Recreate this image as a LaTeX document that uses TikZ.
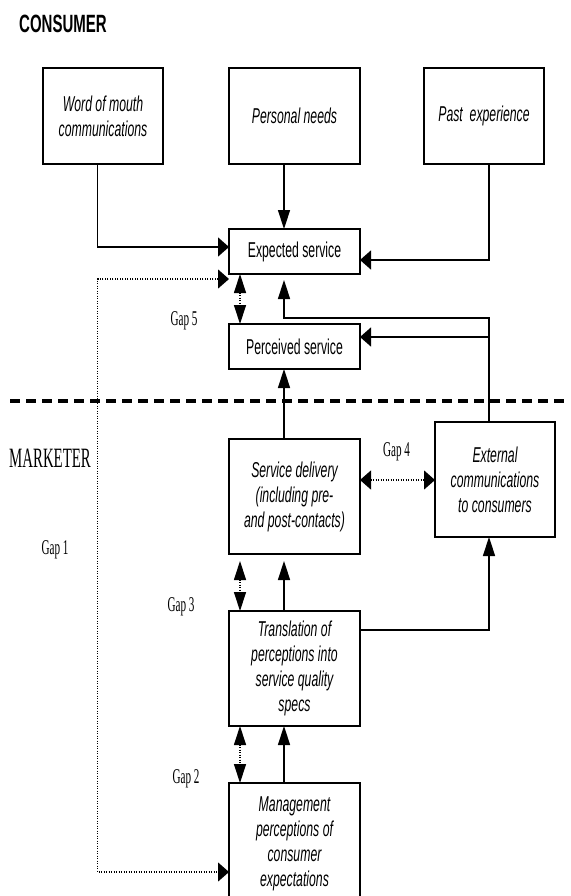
\documentclass[tikz,border=0pt]{standalone}
\usepackage{fontspec}
\setmainfont{Liberation Serif}
\newfontfamily\boxf{Liberation Sans}[FakeStretch=0.57]
\newfontfamily\titlef{Liberation Sans}[FakeStretch=0.6]
\newfontfamily\serf{Liberation Serif}[FakeStretch=0.53]
\usetikzlibrary{arrows.meta,calc}
\tikzset{
  box/.style={draw, line width=1.8pt, anchor=north west, inner sep=0pt, outer sep=0pt,
    align=center, minimum width=131pt,
    font=\boxf\itshape\fontsize{21.5}{25}\selectfont},
  ubox/.style={box, font=\boxf\fontsize{21.5}{25}\selectfont},
  conn/.style={line width=1.5pt},
  dots/.style={line width=1.2pt, dash pattern=on 1.2pt off 1.3pt},
  va/.style={-{Triangle[length=19pt,width=12pt]}},
  vab/.style={{Triangle[length=19pt,width=12pt]}-{Triangle[length=19pt,width=12pt]}},
  ha/.style={-{Triangle[length=11pt,width=19pt]}},
  hab/.style={{Triangle[length=11pt,width=19pt]}-{Triangle[length=11pt,width=19pt]}},
  gap/.style={font=\serf\fontsize{21}{23}\selectfont, inner sep=0pt},
}
\begin{document}
\begin{tikzpicture}[x=1pt,y=-1pt]
\useasboundingbox (0,0) rectangle (570,896);
\clip (0,0) rectangle (570,896);

% column coordinates
\coordinate (xr) at (489,0);
\coordinate (xs) at (284,0);
\coordinate (xd) at (240,0);
\coordinate (xg) at (97.5,0);

% titles
\node[anchor=base west, inner sep=0pt, font=\titlef\bfseries\fontsize{25}{28}\selectfont] (cons) at (19,33) {CONSUMER};
\node[anchor=base west, inner sep=0pt, font=\serf\fontsize{28}{30}\selectfont] (mkt) at (9,467) {MARKETER};

% boxes
\node[box, minimum width=120pt, minimum height=96pt] (wom) at (43,68) {Word of mouth\\communications};
\node[box, minimum height=96pt] (pn) at (229,68) {Personal needs};
\node[box, minimum width=120pt, minimum height=96pt] (pe) at (424,68) {Past~ experience};
\node[ubox, minimum height=45pt] (exp) at (229,229) {Expected service};
\node[ubox, minimum height=45pt] (pc) at (229,324) {Perceived service};
\node[box, minimum height=115pt] (sd) at (229,439) {Service delivery\\(including pre-\\and post-contacts)};
\node[box, minimum width=120pt, minimum height=115pt] (ext) at (435,422) {External\\communications\\to consumers};
\node[box, minimum height=115pt] (tr) at (229,611) {Translation of\\perceptions into\\service quality\\specs};
\node[box, minimum height=121pt] (mg) at (229,783) {Management\\perceptions of\\consumer\\expectations};

% gap labels
\node[gap] (g5) at (184,321) {Gap 5};
\node[gap] (g4) at (396.5,452) {Gap 4};
\node[gap] (g1) at (55,550) {Gap 1};
\node[gap] (g3) at (181,607) {Gap 3};
\node[gap] (g2) at (186,779) {Gap 2};

% separator
\draw[line width=3.3pt, dash pattern=on 10pt off 6pt] (10,401) -- (570,401);

% consumer-side connectors
\draw[conn,ha] (wom.south -| xg) |- ($(exp.west)+(0,-4.5)$);
\draw[conn,va] (pn.south -| xs) -- (exp.north -| xs);
\draw[conn,ha] (pe.south -| xr) |- ($(exp.east)+(0,8.5)$);

% gap 1
\coordinate (g1a) at ($(exp.south west)+(0,5)$);
\coordinate (g1b) at ($(mg.north west)+(0,89)$);
\draw[dots,hab] (g1a) -| (g1b -| xg) -- (g1b);

% gap 5
\draw[dots,vab] (exp.south -| xd) -- (pc.north -| xd);

% external communications feeding expected and perceived service
\coordinate (j1) at (489,318);
\coordinate (pcin) at ($(pc.east)+(0,-9.5)$);
\draw[conn,va] (ext.north -| xr) -- (j1) -| ($(exp.south -| xs)+(0,6)$);
\draw[conn,ha] (pcin -| xr) -- (pcin);

% service delivery to perceived
\draw[conn,va] (sd.north -| xs) -- (pc.south -| xs);

% gap 4
\coordinate (g4y) at (0,480);
\draw[dots,hab] (sd.east |- g4y) -- (ext.west |- g4y);

% translation to service delivery, gap 3
\draw[conn,va] (tr.north -| xs) -- ($(sd.south -| xs)+(0,7)$);
\draw[dots,vab] ($(sd.south -| xd)+(0,7)$) -- (tr.north -| xd);

% translation to external communications
\draw[conn,va] ($(tr.east)+(0,-38.5)$) -| (ext.south -| xr);

% management to translation, gap 2
\draw[conn,va] (mg.north -| xs) -- (tr.south -| xs);
\draw[dots,vab] (tr.south -| xd) -- (mg.north -| xd);
\end{tikzpicture}
\end{document}
